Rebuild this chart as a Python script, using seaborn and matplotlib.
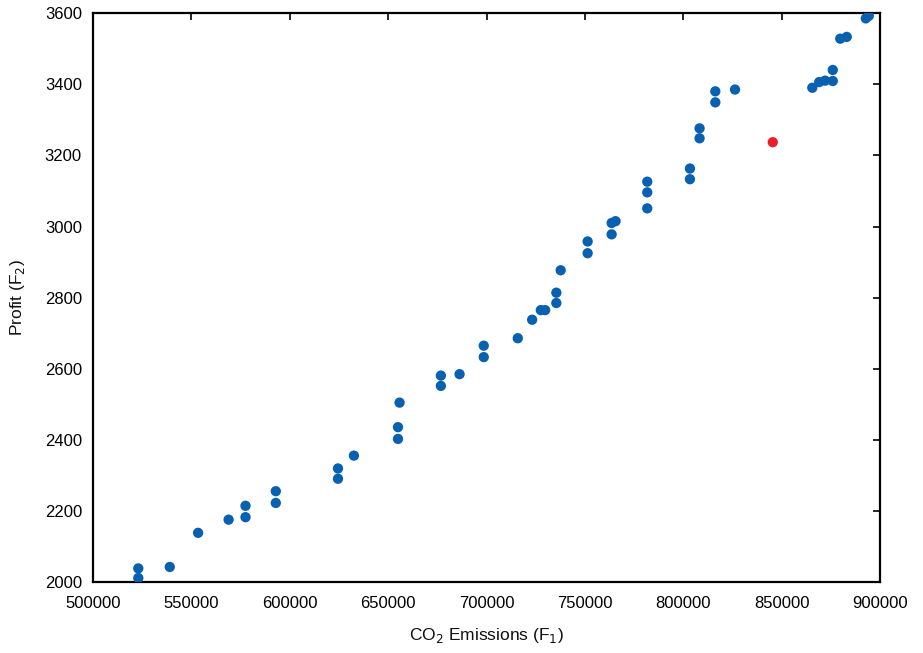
import matplotlib
matplotlib.use("Agg")
import matplotlib.pyplot as plt
import seaborn as sns
import pandas as pd

emissions = [523000, 523000, 539000, 553400, 568900, 577500, 577500, 592900, 592900,
             624500, 624500, 632600, 655000, 655000, 655800,
             676800, 676800, 686300, 698600, 698600, 715900, 723200, 727600, 729800,
             735500, 735500, 737700, 751400, 751400, 763600, 763600, 765600,
             781700, 781700, 781700,
             803400, 803400, 808300, 808300, 816300, 816300, 826300,
             865600, 869100, 872100, 876000, 876000, 879800, 883100, 892800, 894300,
             845500]
profit = [2039, 2012, 2043, 2139, 2176, 2215, 2183, 2256, 2223,
          2320, 2291, 2356, 2403, 2436, 2505,
          2581, 2552, 2585, 2665, 2633, 2686, 2738, 2765, 2765,
          2814, 2785, 2877, 2958, 2925, 2978, 3010, 3015,
          3126, 3096, 3051,
          3163, 3133, 3276, 3248, 3380, 3349, 3385,
          3390, 3406, 3410, 3409, 3440, 3528, 3533, 3585, 3592,
          3237]
group = ["pareto"] * 51 + ["selected"]

df = pd.DataFrame({"CO2": emissions, "Profit": profit, "group": group})

sns.set_style("white")
plt.rcParams["font.family"] = ["Liberation Sans", "DejaVu Sans"]

fig = plt.figure(figsize=(9.23, 6.53), dpi=100)
ax = fig.add_axes([0.1008, 0.1083, 0.8526, 0.8717])

sns.scatterplot(data=df, x="CO2", y="Profit", hue="group",
                palette={"pareto": "#0860B0", "selected": "#E8202A"},
                s=55, edgecolor="none", legend=False, ax=ax, zorder=3)

ax.set_xlim(500000, 900000)
ax.set_ylim(2000, 3600)
ax.set_xticks(range(500000, 900001, 50000))
ax.set_yticks(range(2000, 3601, 200))
ax.tick_params(direction="in", length=5, width=1.2, top=True, right=True,
               labelsize=12, colors="black")
ax.tick_params(axis="x", pad=10)
ax.tick_params(axis="y", pad=8)
for sp in ax.spines.values():
    sp.set_linewidth(1.6)
    sp.set_color("black")

ax.set_xlabel("CO$_2$ Emissions (F$_1$)", fontsize=12.5, labelpad=11, color="#111111")
ax.set_ylabel("Profit (F$_2$)", fontsize=12.5, labelpad=13, color="#111111")

fig.savefig("out.png", dpi=100)
